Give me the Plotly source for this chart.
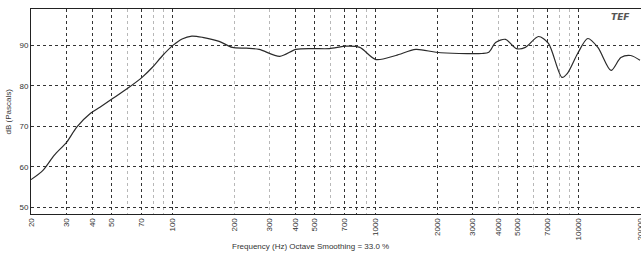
import plotly.graph_objects as go
import math

# Frequency response (Hz, dB)
freq = [20, 22.9, 26, 30, 33.6, 39.3, 43.7, 50.7, 59.9, 70.5, 79.3, 89, 100, 111, 124, 140,
        169, 196, 230, 266, 336, 404, 486, 590, 716, 833, 1000, 1254, 1573, 1980, 2566,
        3330, 3600, 3890, 4350, 4925, 5450, 6320, 7080, 8250, 8780, 9860, 11060, 12400,
        14400, 16100, 18000, 20000]
db = [56.8, 59.1, 62.8, 66.1, 69.8, 73.2, 74.7, 76.9, 79.4, 82.1, 84.6, 87.5, 90.0, 91.6,
      92.3, 92.0, 91.0, 89.5, 89.3, 89.0, 87.3, 89.0, 89.2, 89.2, 89.8, 89.5, 86.5, 87.5,
      89.0, 88.3, 88.0, 88.0, 88.3, 90.7, 91.5, 89.2, 89.5, 92.2, 90.5, 82.1, 83.1, 88.0,
      91.7, 89.5, 83.8, 87.0, 87.5, 86.3]

tick_vals = [20, 30, 40, 50, 70, 100, 200, 300, 400, 500, 700, 1000, 2000, 3000, 4000,
             5000, 7000, 10000, 20000]
tick_text = [str(v) for v in tick_vals]
light_grid = [60, 80, 90, 200, 300, 600, 900, 4000, 6000, 8000, 9000]
dark_grid = [30, 40, 50, 70, 100, 400, 500, 700, 800, 1000, 2000, 3000, 5000, 7000, 10000]
y_ticks = [50, 60, 70, 80, 90]

W, L = 648, 31
plot_w = W - L
xr = [math.log10(20), math.log10(20) + plot_w / 203.0]

fig = go.Figure()
fig.add_trace(go.Scatter(x=[], y=[], xaxis="x2", yaxis="y", showlegend=False, hoverinfo="skip"))
fig.add_trace(go.Scatter(x=freq, y=db, mode="lines", line=dict(color="#2a2a2a", width=1.2,
                         shape="spline", smoothing=0.8), showlegend=False))

fig.update_layout(
    width=W, height=257,
    margin=dict(l=L, r=0, t=9, b=43),
    paper_bgcolor="white", plot_bgcolor="white",
    font=dict(family="Liberation Sans, Arial, sans-serif", size=8, color="#333"),
    xaxis=dict(type="log", range=xr, tickvals=tick_vals, ticktext=tick_text, tickangle=-90,
               showgrid=False, zeroline=False, showline=True, linecolor="#222", linewidth=1,
               mirror=True, ticks="", tickfont=dict(size=8, color="#333"), automargin=False,
               minor=dict(tickvals=light_grid, showgrid=True, gridcolor="#b8b8b8",
                          griddash="dot", gridwidth=1, ticks="")),
    xaxis2=dict(type="log", range=xr, overlaying="x", tickvals=dark_grid, showticklabels=False,
                showgrid=True, gridcolor="#333", griddash="dot", gridwidth=1, zeroline=False,
                ticks="", side="bottom", automargin=False),
    yaxis=dict(range=[48.3, 99], tickvals=y_ticks, showgrid=True, gridcolor="#333",
               griddash="dot", gridwidth=1, zeroline=False, showline=True, linecolor="#222",
               linewidth=1, mirror=True, ticks="", tickfont=dict(size=8, color="#333"),
               automargin=False),
    annotations=[
        dict(text="<b><i>TEF</i></b>", xref="paper", yref="paper", x=(632 - L) / plot_w,
             y=0.995, xanchor="right", yanchor="top", showarrow=False,
             font=dict(size=9, color="#555", family="DejaVu Sans")),
        dict(text="Frequency (Hz) Octave Smoothing = 33.0 %", xref="paper", yref="paper",
             x=(310 - L) / plot_w, y=-33 / 205, xanchor="center", yanchor="middle",
             showarrow=False, font=dict(size=8, color="#333")),
        dict(text="dB (Pascals)", xref="paper", yref="paper", x=-23 / plot_w, y=0.5,
             xanchor="center", yanchor="middle", textangle=-90, showarrow=False,
             font=dict(size=8, color="#333")),
    ],
)

fig.write_html("out.html", config={"displayModeBar": False},
               post_script="document.body.style.margin='0';document.body.style.overflow='hidden';")
